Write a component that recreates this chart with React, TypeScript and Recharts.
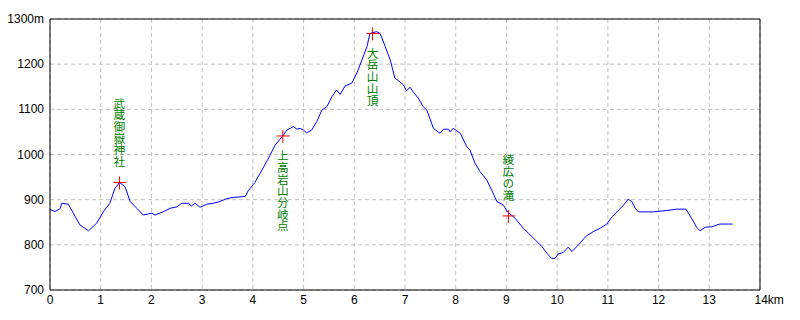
import {
  CartesianGrid,
  ComposedChart,
  Line,
  ReferenceLine,
  Scatter,
  XAxis,
  YAxis,
} from "recharts";

// elevation profile (km along trail, metres)
const DIST_KM = [
  0, 0.1, 0.2, 0.23, 0.36, 0.46, 0.59, 0.76, 0.92, 1.05, 1.18, 1.28, 1.37, 1.48, 1.58, 1.71,
  1.84, 2.01, 2.07, 2.23, 2.37, 2.5, 2.6, 2.73, 2.79, 2.86, 2.96, 3.09, 3.22, 3.35, 3.48, 3.61,
  3.85, 3.91, 4.04, 4.14, 4.27, 4.31, 4.44, 4.59, 4.67, 4.8, 4.87, 4.93, 5.0, 5.06, 5.16, 5.26,
  5.36, 5.46, 5.56, 5.65, 5.72, 5.82, 5.95, 6.05, 6.15, 6.25, 6.31, 6.44, 6.51, 6.61, 6.71, 6.8,
  6.9, 6.97, 7.03, 7.1, 7.16, 7.26, 7.36, 7.43, 7.49, 7.56, 7.69, 7.76, 7.86, 7.89, 7.95, 8.09,
  8.22, 8.28, 8.38, 8.48, 8.61, 8.71, 8.81, 8.94, 9.02, 9.17, 9.33, 9.43, 9.56, 9.7, 9.8, 9.89,
  9.96, 10.02, 10.12, 10.22, 10.29, 10.42, 10.58, 10.71, 10.85, 10.98, 11.08, 11.18, 11.31,
  11.4, 11.47, 11.54, 11.6, 11.9, 12.16, 12.36, 12.54, 12.65, 12.75, 12.82, 12.92, 13.05, 13.21,
  13.38, 13.46,
];

const ELEV_M = [
  878, 874, 880, 892, 890, 870, 844, 831, 848, 873, 892, 925, 938, 929, 896, 881,
  866, 870, 866, 873, 881, 884, 892, 892, 886, 892, 883, 890, 892, 896, 902, 905,
  907, 920, 938, 958, 984, 992, 1021, 1041, 1054, 1062, 1056, 1058, 1054, 1048, 1054, 1073,
  1098, 1106, 1128, 1143, 1133, 1152, 1158, 1180, 1209, 1239, 1268, 1272, 1268, 1239, 1209, 1169,
  1161, 1154, 1141, 1149, 1139, 1125, 1106, 1098, 1080, 1058, 1047, 1056, 1056, 1050, 1058, 1047,
  1017, 1010, 981, 962, 944, 921, 896, 888, 873, 859, 837, 826, 812, 796, 781, 770,
  770, 780, 783, 795, 785, 800, 820, 829, 837, 846, 862, 873, 888,
  901, 896, 881, 873, 873, 876, 879, 879, 859, 839, 831, 839, 840, 846,
  846, 846,
];

const LANDMARK_NAMES = ["武蔵御嶽神社", "上高岩山分岐点", "大岳山山頂", "綾広の滝"];
const LANDMARK_KM = [1.37, 4.59, 6.36, 9.04];
const LANDMARK_ELEV = [938, 1041, 1268, 864];
// which names hang below their marker instead of above
const LABEL_BELOW = new Set(["上高岩山分岐点", "大岳山山頂"]);

const X_TICKS = [0, 1, 2, 3, 4, 5, 6, 7, 8, 9, 10, 11, 12, 13, 14];
const Y_TICKS = [700, 800, 900, 1000, 1100, 1200, 1300];

const profile = DIST_KM.map((km, i) => ({ km, elev: ELEV_M[i] }));
const landmarks = LANDMARK_NAMES.map((name, i) => ({
  name,
  km: LANDMARK_KM[i],
  elev: LANDMARK_ELEV[i],
}));

const TICK_FONT = "'Liberation Sans Narrow', 'Liberation Sans', Arial, sans-serif";
const JP_FONT = "'Noto Sans CJK JP', sans-serif";
const CHAR_STEP = 11.7;

function XTick({ x, y, payload }: any) {
  const last = payload.value === X_TICKS[X_TICKS.length - 1];
  return (
    <text
      x={last ? x - 5.5 : x}
      y={y + 14}
      textAnchor={last ? "start" : "middle"}
      fontSize={12}
      fontFamily={TICK_FONT}
      fill="#000"
    >
      {last ? `${payload.value}km` : payload.value}
    </text>
  );
}

function YTick({ x, y, payload }: any) {
  const last = payload.value === Y_TICKS[Y_TICKS.length - 1];
  return (
    <text
      x={x - 6}
      y={y + 4}
      textAnchor="end"
      fontSize={12}
      fontFamily={TICK_FONT}
      fill="#000"
    >
      {last ? `${payload.value}m` : payload.value}
    </text>
  );
}

function LandmarkMark({ cx, cy, payload }: any) {
  const n = [...payload.name].length;
  const below = LABEL_BELOW.has(payload.name);
  const top = below ? cy + 14 : cy - 15 - n * CHAR_STEP;

  return (
    <g>
      <line x1={cx - 6} x2={cx + 7} y1={cy} y2={cy} stroke="#ff0000" />
      <line x1={cx} x2={cx} y1={cy - 6} y2={cy + 7} stroke="#ff0000" />
      <text
        x={cx}
        y={top}
        fontSize={CHAR_STEP}
        fontFamily={JP_FONT}
        fill="#008000"
        style={{ writingMode: "vertical-rl", textOrientation: "upright" }}
      >
        {payload.name}
      </text>
    </g>
  );
}

export default function App() {
  return (
    <div style={{ position: "absolute", left: 0, top: 0, background: "#fff" }}>
      <ComposedChart
        width={800}
        height={320}
        margin={{ top: 19, right: 40, bottom: 0, left: 0 }}
      >
        <CartesianGrid stroke="#c0c0c0" strokeDasharray="4 3" />

        <XAxis
          type="number"
          dataKey="km"
          domain={[0, 14]}
          ticks={X_TICKS}
          interval={0}
          height={30}
          tickSize={0}
          tickMargin={0}
          tickLine={false}
          axisLine={{ stroke: "#000" }}
          tick={<XTick />}
        />

        <YAxis
          type="number"
          dataKey="elev"
          domain={[700, 1300]}
          ticks={Y_TICKS}
          interval={0}
          width={50}
          tickSize={0}
          tickMargin={0}
          tickLine={false}
          axisLine={{ stroke: "#000" }}
          tick={<YTick />}
        />

        <ReferenceLine y={1300} stroke="#000" />
        <ReferenceLine x={14} stroke="#000" />

        <Line
          data={profile}
          dataKey="elev"
          type="linear"
          stroke="#0000ff"
          strokeWidth={1}
          dot={false}
          activeDot={false}
          isAnimationActive={false}
        />

        <Scatter
          data={landmarks}
          dataKey="elev"
          shape={<LandmarkMark />}
          isAnimationActive={false}
        />
      </ComposedChart>
    </div>
  );
}
